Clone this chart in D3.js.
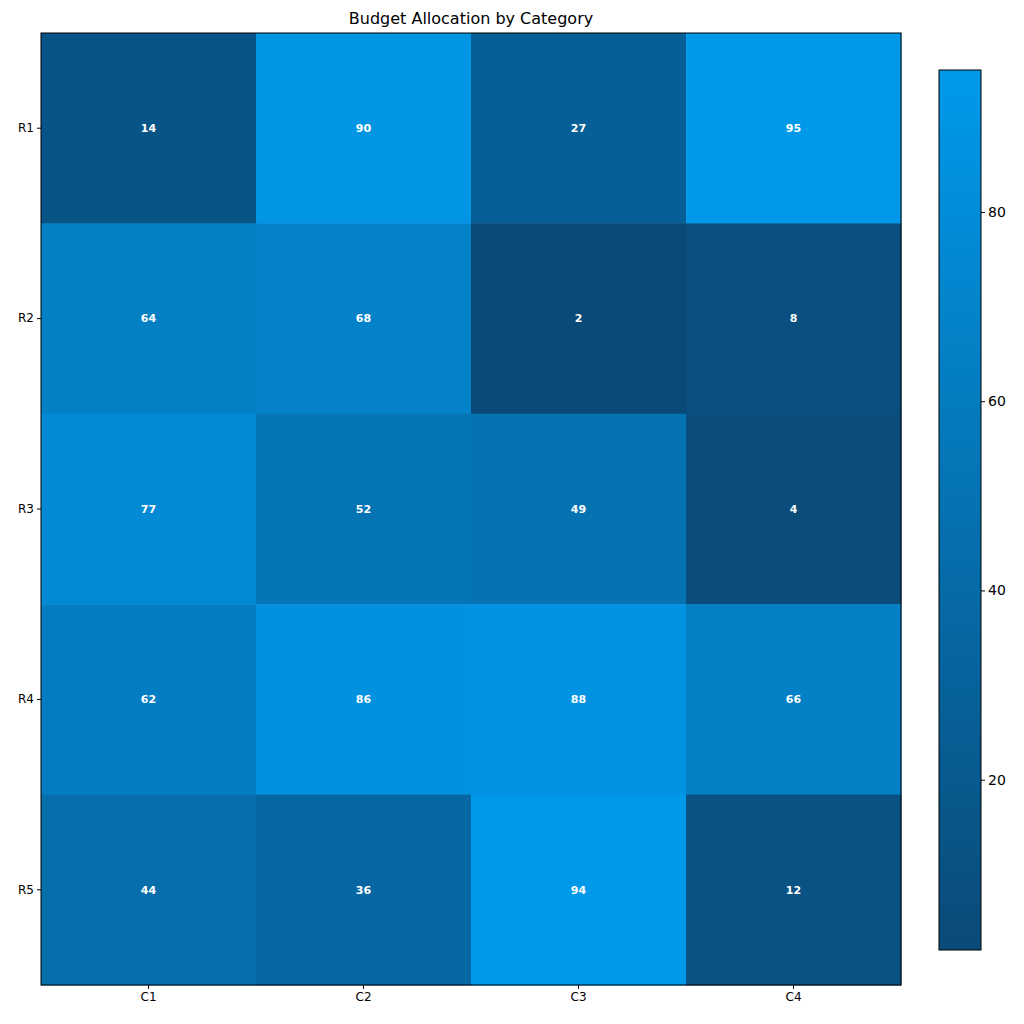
<!DOCTYPE html><html><head><meta charset="utf-8"><script src="https://d3js.org/d3.v7.min.js"></script>
<style>body{margin:0;background:#fff}text{font-family:"DejaVu Sans",sans-serif}</style></head><body><svg width="1024" height="1024"></svg><script>
const rows=["R1","R2","R3","R4","R5"];
const cols=["C1","C2","C3","C4"];
const values=[[14,90,27,95],[64,68,2,8],[77,52,49,4],[62,86,88,66],[44,36,94,12]];
const cbTicks=[20,40,60,80];
const vmin=2,vmax=95;
const svg=d3.select("svg");
const x=d3.scaleBand().domain(cols).range([41,901]);
const y=d3.scaleBand().domain(rows).range([33,985]);
const color=d3.scaleLinear().domain([vmin,vmax]).range(["#0a4a78","#0099ea"]);
const cells=[];rows.forEach((r,i)=>cols.forEach((c,j)=>cells.push({r,c,v:values[i][j]})));
svg.selectAll("rect.c").data(cells).join("rect").attr("x",d=>x(d.c)).attr("y",d=>y(d.r)).attr("width",x.bandwidth()+0.5).attr("height",y.bandwidth()+0.5).attr("fill",d=>color(d.v));
svg.selectAll("text.v").data(cells).join("text").attr("x",d=>x(d.c)+x.bandwidth()/2).attr("y",d=>y(d.r)+y.bandwidth()/2).attr("dy","0.35em").attr("text-anchor","middle").attr("fill","#fff").attr("font-size",11).attr("font-weight","bold").text(d=>d.v);
svg.append("rect").attr("x",41).attr("y",33).attr("width",860).attr("height",952).attr("fill","none").attr("stroke","#000");
svg.append("g").attr("transform","translate(0,985)").call(d3.axisBottom(x).tickSize(4)).call(g=>g.select(".domain").remove()).selectAll("text").attr("font-size",12);
svg.append("g").attr("transform","translate(41,0)").call(d3.axisLeft(y).tickSize(4)).call(g=>g.select(".domain").remove()).selectAll("text").attr("font-size",12);
svg.append("text").attr("x",471).attr("y",24).attr("text-anchor","middle").attr("font-size",16).text("Budget Allocation by Category");
const cy=d3.scaleLinear().domain([vmin,vmax]).range([950,70]);
const defs=svg.append("defs");const gr=defs.append("linearGradient").attr("id","g").attr("x1",0).attr("x2",0).attr("y1",1).attr("y2",0);
gr.append("stop").attr("offset",0).attr("stop-color",color(vmin));gr.append("stop").attr("offset",1).attr("stop-color",color(vmax));
svg.append("rect").attr("x",939).attr("y",70).attr("width",42).attr("height",880).attr("fill","url(#g)").attr("stroke","#000");
svg.append("g").attr("transform","translate(981,0)").call(d3.axisRight(cy).tickValues(cbTicks).tickSize(4)).call(g=>g.select(".domain").remove()).selectAll("text").attr("font-size",14);
</script></body></html>
